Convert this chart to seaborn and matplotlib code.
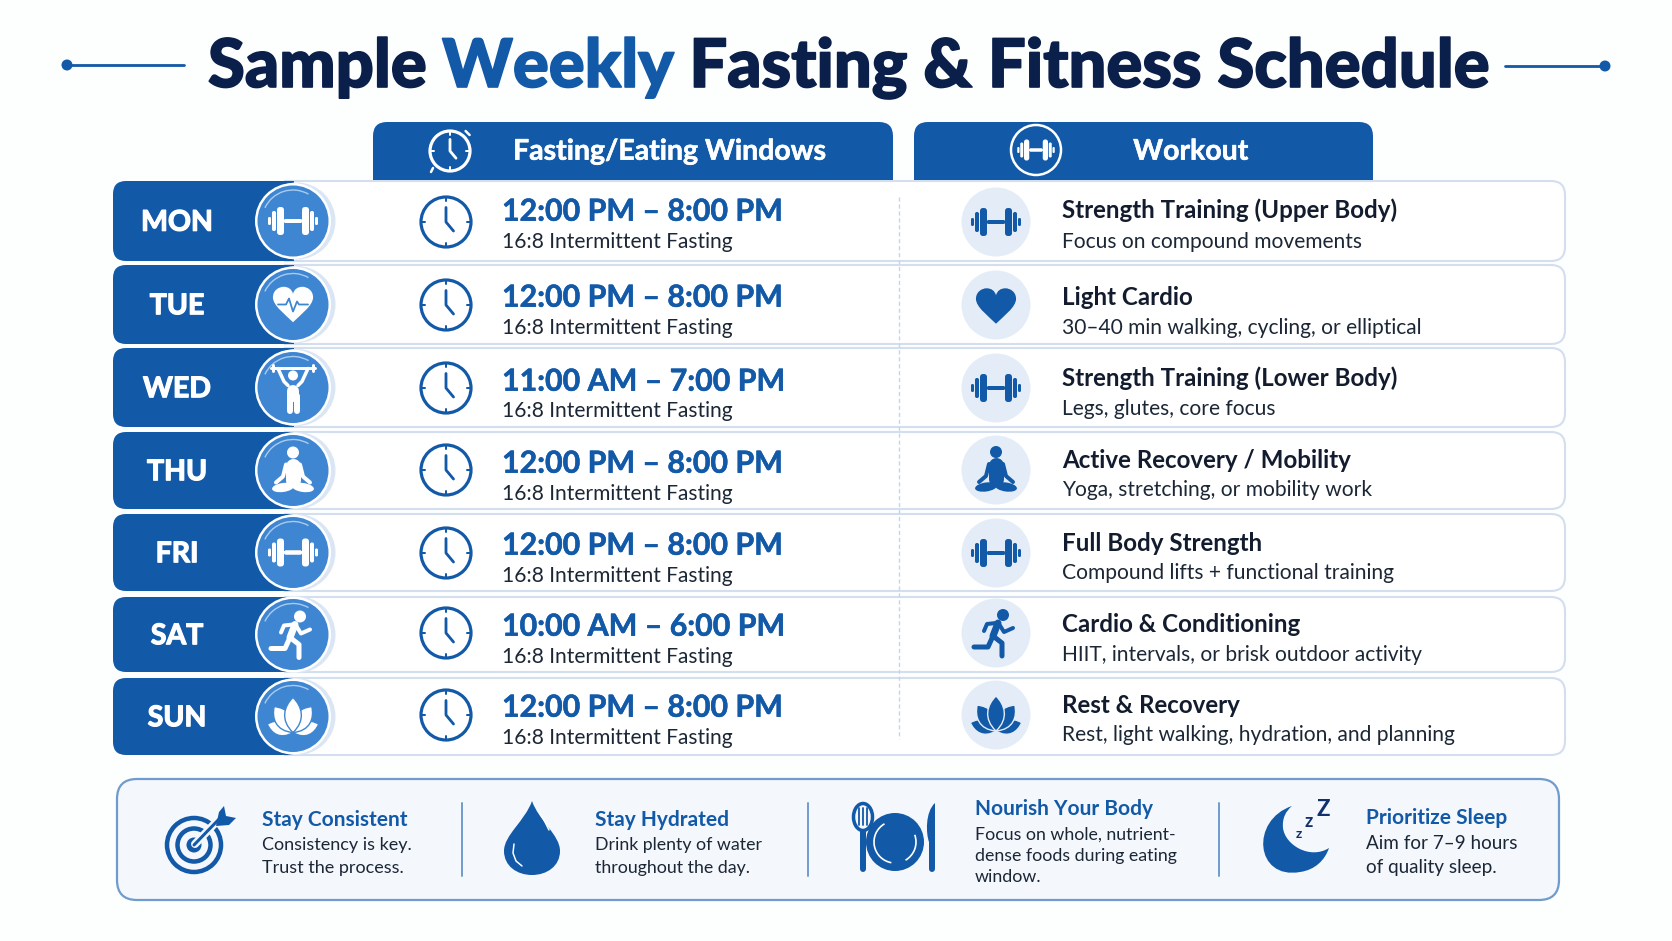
import numpy as np
import pandas as pd
import matplotlib
matplotlib.use("Agg")
import matplotlib.pyplot as plt
import matplotlib.patheffects as pe
import seaborn as sns
from matplotlib.patches import Arc, Circle, Ellipse, FancyBboxPatch, PathPatch
from matplotlib.path import Path
from matplotlib.transforms import Affine2D

# schedule content
DAYS = ["MON", "TUE", "WED", "THU", "FRI", "SAT", "SUN"]
WINDOWS = ["12:00 PM – 8:00 PM", "12:00 PM – 8:00 PM", "11:00 AM – 7:00 PM", "12:00 PM – 8:00 PM",
           "12:00 PM – 8:00 PM", "10:00 AM – 6:00 PM", "12:00 PM – 8:00 PM"]
PROTOCOL = "16:8 Intermittent Fasting"
WORKOUTS = ["Strength Training (Upper Body)", "Light Cardio", "Strength Training (Lower Body)",
            "Active Recovery / Mobility", "Full Body Strength", "Cardio & Conditioning", "Rest & Recovery"]
WORKOUT_NOTES = ["Focus on compound movements", "30–40 min walking, cycling, or elliptical",
                 "Legs, glutes, core focus", "Yoga, stretching, or mobility work",
                 "Compound lifts + functional training", "HIIT, intervals, or brisk outdoor activity",
                 "Rest, light walking, hydration, and planning"]
DAY_ICONS = ["dumbbell", "pulse", "lifter", "meditate", "dumbbell", "runner", "lotus"]
WORKOUT_ICONS = ["dumbbell", "heart", "dumbbell", "meditate", "dumbbell", "runner", "lotus"]
TIP_TITLES = ["Stay Consistent", "Stay Hydrated", "Nourish Your Body", "Prioritize Sleep"]
TIP_LINES = [["Consistency is key.", "Trust the process."],
             ["Drink plenty of water", "throughout the day."],
             ["Focus on whole, nutrient-", "dense foods during eating", "window."],
             ["Aim for 7–9 hours", "of quality sleep."]]

# layout in pixels
ROW_TOP = [181, 265, 348, 432, 514, 597, 678]
ROW_BOTTOM = [261, 344, 427, 509, 591, 672, 755]
ICON_Y = [222, 305, 388, 470, 553, 633, 715]
WINDOW_Y = [210, 296, 380, 462, 544, 625, 706]
PROTOCOL_Y = [240, 326, 409, 492, 574, 655, 736]
WORKOUT_Y = [209, 296, 377, 459, 542, 623, 704]
NOTE_Y = [240, 326, 407, 488, 571, 653, 733]
TIP_X = [262, 595, 975, 1366]
TIP_TITLE_Y = [818, 818, 807, 816]
TIP_LINE_Y = [[843, 866], [843, 866], [833, 854, 875], [842, 866]]
TIP_SIZE = [13, 12.8, 12.8, 13.6]

BLUE = "#1259a8"
MID_BLUE = "#3f86d2"
NAVY = "#0b1f4b"
INK = "#1c2736"
PALE = "#e4edf7"
LINE = "#d3deef"
FONT = "Lato"


def pt(px):
    return px * 0.72


def round_rect(x0, y0, x1, y1, r, tl=True, tr=True, br=True, bl=True):
    verts, codes = [], []
    corners = [(x0, y0, tl, (0, 1), (1, 0)), (x1, y0, tr, (-1, 0), (0, 1)),
               (x1, y1, br, (0, -1), (-1, 0)), (x0, y1, bl, (1, 0), (0, -1))]
    for x, y, rounded, a, b in corners:
        if rounded:
            verts += [(x + a[0] * r, y + a[1] * r), (x, y), (x + b[0] * r, y + b[1] * r)]
            codes += [Path.LINETO, Path.CURVE3, Path.CURVE3]
        else:
            verts.append((x, y))
            codes.append(Path.LINETO)
    codes[0] = Path.MOVETO
    verts.append(verts[0])
    codes.append(Path.CLOSEPOLY)
    return Path(verts, codes)


def circles(ax, xs, ys, r, fill, edge="none", lw=0, z=3):
    frame = pd.DataFrame({"x": xs, "y": ys})
    sns.scatterplot(data=frame, x="x", y="y", s=(2 * pt(r)) ** 2, color=fill, edgecolor=edge,
                    linewidth=lw, ax=ax, legend=False, zorder=z)


def stroke(ax, pts, cx, cy, k, color, lw, z=6):
    arr = np.array(pts, dtype=float) * k + [cx, cy]
    ax.plot(arr[:, 0], arr[:, 1], color=color, lw=pt(lw * k), solid_capstyle="round",
            solid_joinstyle="round", zorder=z)


def blob(ax, verts, codes, cx, cy, k, color, z=6, edge="none", lw=0):
    arr = np.array(verts, dtype=float) * k + [cx, cy]
    ax.add_patch(PathPatch(Path(arr, codes), fc=color, ec=edge, lw=lw, zorder=z))


def dumbbell(ax, cx, cy, k, color, z=6):
    parts = [(0, 9, 4), (9, 16, 28), (17, 21, 20), (22, 25, 8)]
    for x0, x1, h in parts:
        for side in (-1, 1):
            a = min(side * x0, side * x1) if x0 else -x1
            w = (x1 - x0) if x0 else 2 * x1
            ax.add_patch(FancyBboxPatch((cx + a * k, cy - h / 2 * k), w * k, h * k,
                                        boxstyle=f"round,pad=0,rounding_size={min(w, h) * k / 2.2}",
                                        fc=color, ec="none", zorder=z))


def heart(ax, cx, cy, k, color, z=6):
    c4 = Path.CURVE4
    verts = [(0, 15), (-6, 9), (-17, 1), (-17, -6), (-17, -12), (-12, -15), (-8, -15), (-4, -15), (-1, -13),
             (0, -9), (1, -13), (4, -15), (8, -15), (12, -15), (17, -12), (17, -6), (17, 1), (6, 9), (0, 15), (0, 15)]
    codes = [Path.MOVETO] + [c4] * 18 + [Path.CLOSEPOLY]
    blob(ax, verts, codes, cx, cy, k, color, z)


def pulse(ax, cx, cy, color, bg):
    heart(ax, cx, cy, 1.18, color)
    stroke(ax, [(-15, 0), (-7, 0), (-4, -6), (0, 7), (4, -3), (6, 0), (15, 0)], cx, cy, 1, bg, 1.8, z=7)


def lifter(ax, cx, cy, color):
    stroke(ax, [(-22, -20), (22, -20)], cx, cy, 1, color, 3)
    for side in (-1, 1):
        stroke(ax, [(side * 20, -23), (side * 20, -17)], cx, cy, 1, color, 3)
        stroke(ax, [(side * 15, -19), (side * 9, -6), (side * 5, -2)], cx, cy, 1, color, 3.5)
        stroke(ax, [(side * 3.5, 8), (side * 3.5, 23)], cx, cy, 1, color, 6)
    stroke(ax, [(0, 3), (0, 8)], cx, cy, 1, color, 12)
    ax.add_patch(Circle((cx, cy - 12), 5, fc=color, ec="none", zorder=6))


def meditate(ax, cx, cy, color, k=1.0):
    ax.add_patch(Circle((cx, cy - 18 * k), 6 * k, fc=color, ec="none", zorder=6))
    stroke(ax, [(0, -5), (0, 9)], cx, cy, k, color, 15)
    for side in (-1, 1):
        stroke(ax, [(side * 7, -6), (side * 10, 6), (side * 17, 12)], cx, cy, k, color, 4)
        ax.add_patch(Ellipse((cx + side * 10 * k, cy + 17 * k), 22 * k, 9 * k, angle=side * 8,
                             fc=color, ec="none", zorder=6))


def runner(ax, cx, cy, color):
    ax.add_patch(Circle((cx + 7, cy - 18), 6, fc=color, ec="none", zorder=6))
    stroke(ax, [(2, -10), (-3, 3)], cx, cy, 1, color, 7)
    stroke(ax, [(0, -10), (-9, -9), (-12, -2)], cx, cy, 1, color, 4)
    stroke(ax, [(3, -9), (8, -1), (17, -5)], cx, cy, 1, color, 4)
    stroke(ax, [(-3, 3), (6, 10), (6, 23)], cx, cy, 1, color, 5)
    stroke(ax, [(-3, 3), (-8, 14), (-22, 14)], cx, cy, 1, color, 5)


def lotus(ax, cx, cy, color, bg):
    c4 = Path.CURVE4
    for angle, length, width in [(-72, 27, 11), (72, 27, 11), (-36, 32, 13), (36, 32, 13), (0, 35, 13)]:
        verts = np.array([(0, 0), (-width, -0.35 * length), (-width * 0.7, -0.75 * length), (0, -length),
                          (width * 0.7, -0.75 * length), (width, -0.35 * length), (0, 0), (0, 0)])
        verts = Affine2D().rotate_deg(angle).transform(verts)
        blob(ax, verts, [Path.MOVETO, c4, c4, c4, c4, c4, c4, Path.CLOSEPOLY], cx, cy + 16, 1, color,
             edge=bg, lw=1)


def clock(ax, cx, cy, r, color, bg, alarm=False):
    ax.add_patch(Circle((cx, cy), r, fc=bg, ec=color, lw=pt(3.2), zorder=5))
    for angle in (0, 90, 180, 270):
        a = np.deg2rad(angle)
        stroke(ax, [(np.cos(a) * (r - 4), np.sin(a) * (r - 4)), (np.cos(a) * r, np.sin(a) * r)],
               cx, cy, 1, color, 2)
    stroke(ax, [(0, -r * 0.58), (0, 0), (r * 0.3, r * 0.36)], cx, cy, 1, color, 2.8)
    if alarm:
        stroke(ax, [(r * 0.78, -r * 1.0), (r * 0.98, -r * 0.8)], cx, cy, 1, color, 2.5)
        stroke(ax, [(-r * 0.85, r * 0.85), (-r * 0.95, r * 1.05)], cx, cy, 1, color, 2.5)


def draw_icon(ax, name, cx, cy, color, bg):
    if name == "dumbbell":
        dumbbell(ax, cx, cy, 1, color)
    elif name == "heart":
        heart(ax, cx, cy + 1, 1.18, color)
    elif name == "pulse":
        pulse(ax, cx, cy, color, bg)
    elif name == "lifter":
        lifter(ax, cx, cy, color)
    elif name == "meditate":
        meditate(ax, cx, cy, color)
    elif name == "runner":
        runner(ax, cx, cy, color)
    elif name == "lotus":
        lotus(ax, cx, cy, color, bg)


def target_icon(ax, cx, cy):
    for r, lw in [(27, 4.5), (16.5, 4.5)]:
        ax.add_patch(Circle((cx, cy), r, fc="none", ec=BLUE, lw=pt(lw), zorder=5))
    ax.add_patch(Circle((cx, cy), 7.5, fc=BLUE, ec="none", zorder=5))
    stroke(ax, [(1, -1), (26, -27)], cx, cy, 1, "#f4f7fc", 8)
    stroke(ax, [(0, 0), (28, -29)], cx, cy, 1, BLUE, 3, z=7)
    blob(ax, [(22, -19), (25, -33), (30, -39), (32, -29), (42, -27), (35, -20), (22, -19), (22, -19)],
         [Path.MOVETO] + [Path.LINETO] * 6 + [Path.CLOSEPOLY], cx, cy, 1, BLUE, z=7)


def drop_icon(ax, cx, cy):
    c4 = Path.CURVE4
    verts = [(0, -37), (7, -17), (28, -3), (28, 13), (28, 28), (15, 37), (0, 37), (-15, 37), (-28, 28), (-28, 13),
             (-28, -3), (-7, -17), (0, -37), (0, -37)]
    blob(ax, verts, [Path.MOVETO] + [c4] * 12 + [Path.CLOSEPOLY], cx, cy, 1, BLUE)
    stroke(ax, [(8, -24), (12, -18), (17, -8)], cx, cy, 1, "white", 1.5, z=7)
    stroke(ax, [(-18, 6), (-19, 15), (-16, 23), (-10, 28)], cx, cy, 1, "white", 1.5, z=7)


def plate_icon(ax, cx, cy):
    ax.add_patch(Circle((cx, cy), 29, fc=BLUE, ec="none", zorder=5))
    ax.add_patch(Arc((cx, cy), 42, 42, theta1=100, theta2=240, ec="white", lw=1.2, zorder=6))
    ax.add_patch(Arc((cx, cy), 42, 42, theta1=340, theta2=60, ec="white", lw=1.2, zorder=6))
    # fork
    fx = cx - 32
    ax.add_patch(Ellipse((fx, cy - 25), 19, 27, fc="#f4f7fc", ec=BLUE, lw=pt(3.5), zorder=7))
    for dx in (-4, 0, 4):
        stroke(ax, [(dx, -34), (dx, -17)], fx, cy, 1, BLUE, 1.8, z=8)
    stroke(ax, [(0, -10), (0, 27)], fx, cy, 1, BLUE, 6, z=7)
    # knife
    kx = cx + 37
    c4 = Path.CURVE4
    blob(ax, [(3, -39), (-7, -30), (-6, -8), (-3, 0), (3, 0), (3, -20), (3, -39), (3, -39)],
         [Path.MOVETO, c4, c4, c4, Path.LINETO, Path.LINETO, Path.LINETO, Path.CLOSEPOLY], kx, cy, 1, BLUE, z=7)
    stroke(ax, [(0, 0), (0, 27)], kx, cy, 1, BLUE, 6, z=7)


def moon_icon(ax, cx, cy):
    c4 = Path.CURVE4
    verts = [(-4, -34), (-46, -20), (-41, 40), (4, 32), (19, 30), (29, 20), (33, 8), (14, 20), (-11, 5), (-13, -12),
             (-14, -22), (-10, -29), (-4, -34), (-4, -34)]
    blob(ax, verts, [Path.MOVETO] + [c4] * 12 + [Path.CLOSEPOLY], cx, cy, 1, BLUE)


sns.set_theme(style="white")
plt.rcParams["font.family"] = [FONT, "DejaVu Sans"]

fig = plt.figure(figsize=(16.72, 9.41), dpi=100, facecolor="#fdfefe")
ax = fig.add_axes([0, 0, 1, 1])
ax.set_facecolor("#fdfefe")
renderer = fig.canvas.get_renderer()


def label(x, y, s, size, color=INK, weight="normal", ha="left", z=10, heavy=0):
    t = ax.text(x, y + 1.7, s, fontsize=size, color=color, fontweight=weight, ha=ha, va="center", zorder=z)
    if heavy:
        t.set_path_effects([pe.withStroke(linewidth=heavy, foreground=color)])
    return t


# title, coloured word by word
title_size = 48.2
title_parts = [("Sample ", NAVY), ("Weekly ", BLUE), ("Fasting & Fitness Schedule", NAVY)]


def measure(s):
    t = ax.text(0, 0, s, fontsize=title_size, fontweight="black")
    w = t.get_window_extent(renderer).width
    t.remove()
    return w


title_x = 208
prefix = ""
for part, color in title_parts:
    first = part[0]
    offset = measure(prefix + first) - measure(first) if prefix else 0
    t = ax.text(title_x + offset, 87, part.rstrip(), fontsize=title_size, color=color, fontweight="black",
                va="baseline", zorder=10)
    t.set_path_effects([pe.withStroke(linewidth=1.2, foreground=color)])
    prefix += part

ax.plot([66, 184], [65, 65], color=BLUE, lw=2)
ax.plot([1505, 1605], [66, 66], color=BLUE, lw=2)
circles(ax, [67, 1605], [65, 66], 5.5, BLUE)

# column tabs
ax.add_patch(PathPatch(round_rect(373, 122, 893, 180, 14, br=False, bl=False), fc=BLUE, ec="none", zorder=4))
ax.add_patch(PathPatch(round_rect(914, 122, 1373, 180, 14, br=False, bl=False), fc=BLUE, ec="none", zorder=4))
clock(ax, 450, 151, 20, "white", BLUE, alarm=True)
ax.add_patch(Circle((1036, 150), 25, fc=BLUE, ec="white", lw=pt(2.5), zorder=5))
dumbbell(ax, 1036, 150, 0.75, "white")
label(670, 150, "Fasting/Eating Windows", 20.5, "white", "bold", ha="center", heavy=0.4)
label(1191, 150, "Workout", 20.5, "white", "bold", ha="center", heavy=0.4)

# rows
n = len(DAYS)
for i in range(n):
    ax.add_patch(PathPatch(round_rect(285, ROW_TOP[i], 1565, ROW_BOTTOM[i], 14, tl=False, bl=False),
                           fc="white", ec=LINE, lw=1.5, zorder=1))
    ax.add_patch(PathPatch(round_rect(113, ROW_TOP[i], 294, ROW_BOTTOM[i], 13, tr=False, br=False),
                           fc=BLUE, ec="none", zorder=2))

ax.plot([899, 899], [197, 739], color="#c5d6ea", lw=1, ls=(0, (3, 2)), zorder=2)
centers = [(t + b) / 2 for t, b in zip(ROW_TOP, ROW_BOTTOM)]
circles(ax, [297] * n, centers, 38.5, "#dbe6f5", z=3)
circles(ax, [293] * n, centers, 38, "white", z=3.1)
circles(ax, [293] * n, centers, 35.5, MID_BLUE, z=3.2)
circles(ax, [996] * n, ICON_Y, 34.5, PALE, z=3)

for i in range(n):
    label(177, centers[i], DAYS[i], 20.5, "white", "bold", ha="center", heavy=0.9)
    draw_icon(ax, DAY_ICONS[i], 293, centers[i], "white", MID_BLUE)
    ax.add_patch(Arc((293, centers[i]), 62, 62, theta1=205, theta2=300, ec="#a9cbee", lw=1, zorder=5))
    clock(ax, 446, ICON_Y[i], 25, BLUE, "white")
    label(502, WINDOW_Y[i], WINDOWS[i], 21.85, BLUE, "bold", heavy=0.4)
    label(502, PROTOCOL_Y[i], PROTOCOL, 15.1)
    draw_icon(ax, WORKOUT_ICONS[i], 996, ICON_Y[i], BLUE, PALE)
    label(1062, WORKOUT_Y[i], WORKOUTS[i], 17.4, "#131c2e", "bold")
    label(1062, NOTE_Y[i], WORKOUT_NOTES[i], 15.1)

# tips panel
ax.add_patch(PathPatch(round_rect(117, 779, 1559, 900, 20), fc="#f4f7fc", ec="#6f9bcd", lw=1.6, zorder=1))
for x in (462, 808, 1219):
    ax.plot([x, x], [803, 876], color="#6f9bcd", lw=1.4, zorder=2)
target_icon(ax, 194, 845)
drop_icon(ax, 532, 838)
plate_icon(ax, 895, 842)
moon_icon(ax, 1296, 840)
for x, y, s in [(1299, 832, 10), (1309, 820, 13), (1323, 808, 16)]:
    label(x, y, "z" if s < 16 else "Z", s, "#12306b", "bold", ha="center")
for i, title in enumerate(TIP_TITLES):
    label(TIP_X[i], TIP_TITLE_Y[i], title, 15, BLUE, "bold")
    for y, line in zip(TIP_LINE_Y[i], TIP_LINES[i]):
        label(TIP_X[i], y, line, TIP_SIZE[i])

ax.set_xlim(0, 1672)
ax.set_ylim(941, 0)
ax.axis("off")
plt.savefig("out.png", dpi=100, facecolor=fig.get_facecolor())
